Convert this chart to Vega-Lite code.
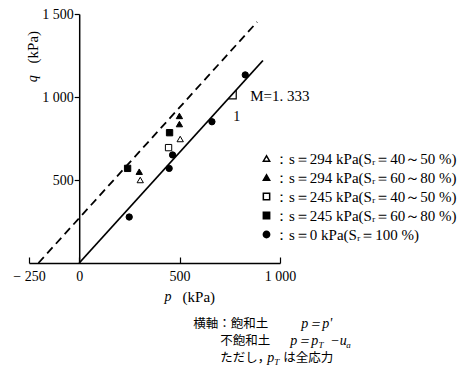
{
  "$schema": "https://vega.github.io/schema/vega-lite/v6.json",
  "width": 251,
  "height": 249,
  "autosize": "none",
  "padding": {"left": 29, "top": 14, "right": 182, "bottom": 109},
  "background": "white",
  "config": {"view": {"stroke": null}, "font": "Liberation Sans"},
  "datasets": {
    "points": [
      {"s": "：s＝294 kPa(Sᵣ＝40～50 %)", "p": 304, "q": 500},
      {"s": "：s＝294 kPa(Sᵣ＝40～50 %)", "p": 503, "q": 747},
      {"s": "：s＝294 kPa(Sᵣ＝60～80 %)", "p": 299, "q": 550},
      {"s": "：s＝294 kPa(Sᵣ＝60～80 %)", "p": 499, "q": 886},
      {"s": "：s＝294 kPa(Sᵣ＝60～80 %)", "p": 499, "q": 837},
      {"s": "：s＝245 kPa(Sᵣ＝40～50 %)", "p": 445, "q": 695},
      {"s": "：s＝245 kPa(Sᵣ＝60～80 %)", "p": 241, "q": 570},
      {"s": "：s＝245 kPa(Sᵣ＝60～80 %)", "p": 450, "q": 785},
      {"s": "：s＝0 kPa(Sᵣ＝100 %)", "p": 249, "q": 277},
      {"s": "：s＝0 kPa(Sᵣ＝100 %)", "p": 448, "q": 570},
      {"s": "：s＝0 kPa(Sᵣ＝100 %)", "p": 465, "q": 651},
      {"s": "：s＝0 kPa(Sᵣ＝100 %)", "p": 661, "q": 851},
      {"s": "：s＝0 kPa(Sᵣ＝100 %)", "p": 827, "q": 1133}
    ],
    "lines": [
      {"line": "solid", "p": 0, "q": 0},
      {"line": "solid", "p": 915, "q": 1220},
      {"line": "dashed", "p": -203, "q": 0},
      {"line": "dashed", "p": 886, "q": 1452}
    ],
    "slope": [
      {"p": 742, "q": 989},
      {"p": 782, "q": 989},
      {"p": 782, "q": 1042}
    ],
    "notes": [
      {"t": "横軸：飽和土", "p": 568, "q": -367, "f": "n", "fs": 12.5},
      {"t": "不飽和土", "p": 702, "q": -470, "f": "n", "fs": 12.5},
      {"t": "ただし，", "p": 702, "q": -572, "f": "n", "fs": 12.5},
      {"t": "は全応力", "p": 1016, "q": -572, "f": "n", "fs": 12.5},
      {"t": "p＝p'", "p": 1106, "q": -367, "f": "i", "fs": 14},
      {"t": "p＝p", "p": 1051, "q": -470, "f": "i", "fs": 14},
      {"t": "T", "p": 1192, "q": -494, "f": "i", "fs": 9},
      {"t": "−u", "p": 1250, "q": -470, "f": "i", "fs": 14},
      {"t": "a", "p": 1330, "q": -494, "f": "i", "fs": 9},
      {"t": "p", "p": 936, "q": -572, "f": "i", "fs": 14},
      {"t": "T", "p": 971, "q": -596, "f": "i", "fs": 9},
      {"t": "p", "p": 425, "q": -205, "f": "i", "fs": 14},
      {"t": "(kPa)", "p": 515, "q": -205, "f": "r", "fs": 15},
      {"t": "M=1. 333", "p": 852, "q": 1006, "f": "s", "fs": 15},
      {"t": "1", "p": 767, "q": 880, "f": "s", "fs": 14}
    ]
  },
  "layer": [
    {
      "data": {"name": "lines"},
      "transform": [{"filter": "datum.line == 'solid'"}],
      "mark": {"type": "line", "color": "black", "strokeWidth": 1.8},
      "encoding": {
        "x": {
          "field": "p", "type": "quantitative",
          "scale": {"domain": [-250, 1000], "nice": false, "zero": false},
          "axis": {
            "values": [-250, 0, 500, 1000], "title": null, "grid": false,
            "domainColor": "black", "domainWidth": 1.5,
            "tickColor": "black", "tickSize": -6, "tickWidth": 1.2,
            "labelColor": "black", "labelFont": "Liberation Sans Narrow", "labelFontSize": 14,
            "labelPadding": 12, "labelFlush": false,
            "labelExpr": "datum.value == 1000 ? '1 000' : datum.value == -250 ? '− 250' : datum.value + ''"
          }
        },
        "y": {
          "field": "q", "type": "quantitative",
          "scale": {"domain": [0, 1500], "nice": false},
          "axis": {
            "values": [500, 1000, 1500], "title": null, "grid": false, "offset": -50.2,
            "domainColor": "black", "domainWidth": 1.5,
            "tickColor": "black", "tickSize": 5, "tickWidth": 1.2,
            "labelColor": "black", "labelFont": "Liberation Sans Narrow", "labelFontSize": 14,
            "labelPadding": 1,
            "labelExpr": "datum.value == 1000 ? '1 000' : datum.value == 1500 ? '1 500' : datum.value + ''"
          }
        }
      }
    },
    {
      "data": {"name": "lines"},
      "transform": [{"filter": "datum.line == 'dashed'"}],
      "mark": {"type": "line", "color": "black", "strokeWidth": 1.8, "strokeDash": [8, 5]},
      "encoding": {
        "x": {"field": "p", "type": "quantitative"},
        "y": {"field": "q", "type": "quantitative"}
      }
    },
    {
      "data": {"name": "slope"},
      "mark": {"type": "line", "color": "black", "strokeWidth": 1.2},
      "encoding": {
        "x": {"field": "p", "type": "quantitative"},
        "y": {"field": "q", "type": "quantitative"}
      }
    },
    {
      "data": {"name": "points"},
      "mark": {"type": "point", "stroke": "black", "strokeWidth": 1, "opacity": 1, "size": 40},
      "encoding": {
        "x": {"field": "p", "type": "quantitative"},
        "y": {"field": "q", "type": "quantitative"},
        "shape": {
          "field": "s", "type": "nominal",
          "scale": {
            "domain": ["：s＝294 kPa(Sᵣ＝40～50 %)", "：s＝294 kPa(Sᵣ＝60～80 %)", "：s＝245 kPa(Sᵣ＝40～50 %)", "：s＝245 kPa(Sᵣ＝60～80 %)", "：s＝0 kPa(Sᵣ＝100 %)"],
            "range": ["triangle-up", "triangle-up", "square", "square", "circle"]
          },
          "legend": {
            "orient": "none", "legendX": 230, "legendY": 137, "title": null,
            "labelFont": "Liberation Serif", "labelFontSize": 15, "labelColor": "black",
            "labelLimit": 400, "symbolSize": 40, "rowPadding": 3, "labelOffset": 0,
            "encode": {"symbols": {"update": {"stroke": {"value": "black"}, "strokeWidth": {"value": 1}, "opacity": {"value": 1}}}}
          }
        },
        "fill": {
          "field": "s", "type": "nominal",
          "scale": {
            "domain": ["：s＝294 kPa(Sᵣ＝40～50 %)", "：s＝294 kPa(Sᵣ＝60～80 %)", "：s＝245 kPa(Sᵣ＝40～50 %)", "：s＝245 kPa(Sᵣ＝60～80 %)", "：s＝0 kPa(Sᵣ＝100 %)"],
            "range": ["white", "black", "white", "black", "black"]
          },
          "legend": {
            "orient": "none", "legendX": 230, "legendY": 137, "title": null,
            "labelFont": "Liberation Serif", "labelFontSize": 15, "labelColor": "black",
            "labelLimit": 400, "symbolSize": 40, "rowPadding": 3, "labelOffset": 0,
            "encode": {"symbols": {"update": {"stroke": {"value": "black"}, "strokeWidth": {"value": 1}, "opacity": {"value": 1}}}}
          }
        }
      }
    },
    {
      "data": {"name": "notes"},
      "transform": [{"filter": "datum.f == 'n'"}],
      "mark": {"type": "text", "align": "left", "baseline": "middle", "font": "Noto Sans CJK JP", "color": "black"},
      "encoding": {
        "x": {"field": "p", "type": "quantitative"},
        "y": {"field": "q", "type": "quantitative"},
        "size": {"field": "fs", "type": "quantitative", "scale": null},
        "text": {"field": "t"}
      }
    },
    {
      "data": {"name": "notes"},
      "transform": [{"filter": "datum.f == 'i'"}],
      "mark": {"type": "text", "align": "left", "baseline": "middle", "font": "Liberation Serif", "fontStyle": "italic", "color": "black"},
      "encoding": {
        "x": {"field": "p", "type": "quantitative"},
        "y": {"field": "q", "type": "quantitative"},
        "size": {"field": "fs", "type": "quantitative", "scale": null},
        "text": {"field": "t"}
      }
    },
    {
      "data": {"name": "notes"},
      "transform": [{"filter": "datum.f == 's'"}],
      "mark": {"type": "text", "align": "left", "baseline": "middle", "font": "Liberation Sans Narrow", "color": "black"},
      "encoding": {
        "x": {"field": "p", "type": "quantitative"},
        "y": {"field": "q", "type": "quantitative"},
        "size": {"field": "fs", "type": "quantitative", "scale": null},
        "text": {"field": "t"}
      }
    },
    {
      "data": {"name": "notes"},
      "transform": [{"filter": "datum.f == 'r'"}],
      "mark": {"type": "text", "align": "left", "baseline": "middle", "font": "Liberation Serif", "color": "black"},
      "encoding": {
        "x": {"field": "p", "type": "quantitative"},
        "y": {"field": "q", "type": "quantitative"},
        "size": {"field": "fs", "type": "quantitative", "scale": null},
        "text": {"field": "t"}
      }
    },
    {
      "data": {"values": [{"t": "q", "p": -232, "q": 1110}]},
      "mark": {"type": "text", "align": "center", "baseline": "middle", "angle": 270, "font": "Liberation Serif", "fontStyle": "italic", "fontSize": 14, "color": "black"},
      "encoding": {
        "x": {"field": "p", "type": "quantitative"},
        "y": {"field": "q", "type": "quantitative"},
        "text": {"field": "t"}
      }
    },
    {
      "data": {"values": [{"t": "(kPa)", "p": -232, "q": 1300}]},
      "mark": {"type": "text", "align": "center", "baseline": "middle", "angle": 270, "font": "Liberation Serif", "fontSize": 15, "color": "black"},
      "encoding": {
        "x": {"field": "p", "type": "quantitative"},
        "y": {"field": "q", "type": "quantitative"},
        "text": {"field": "t"}
      }
    }
  ]
}
